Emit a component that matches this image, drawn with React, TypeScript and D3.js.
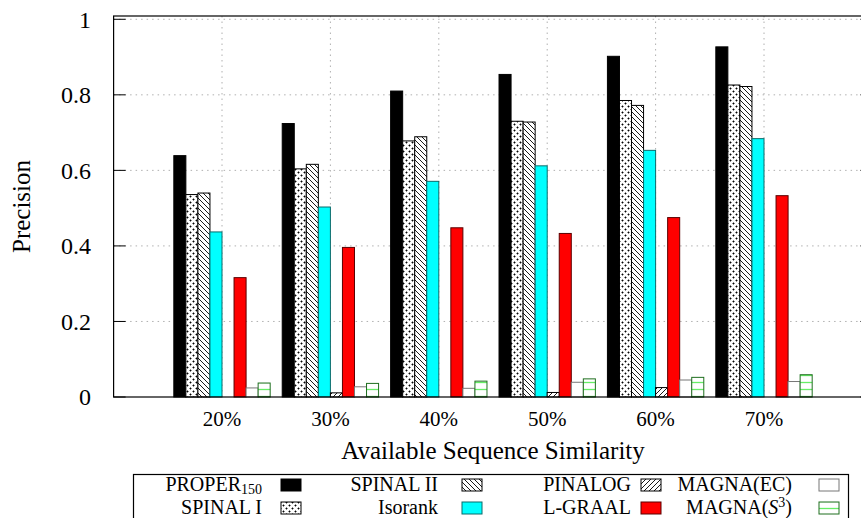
import React, { useEffect, useRef } from "react";
import * as d3 from "d3";

// similarity levels on the x axis
const categories = ["20%", "30%", "40%", "50%", "60%", "70%"];

// precision per method, one value per similarity level
const proper150 = [0.639, 0.724, 0.81, 0.854, 0.902, 0.927];
const spinal1 = [0.536, 0.604, 0.678, 0.73, 0.785, 0.826];
const spinal2 = [0.54, 0.616, 0.689, 0.728, 0.772, 0.822];
const isorank = [0.437, 0.503, 0.571, 0.612, 0.653, 0.684];
const pinalog = [0, 0.011, 0, 0.012, 0.025, 0];
const lgraal = [0.316, 0.396, 0.448, 0.433, 0.475, 0.533];
const magnaEC = [0.024, 0.027, 0.023, 0.039, 0.045, 0.041];
const magnaS3 = [0.037, 0.036, 0.042, 0.048, 0.052, 0.059];

const yTicks = [0, 0.2, 0.4, 0.6, 0.8, 1];

const FONT = "Liberation Serif, DejaVu Serif, serif";

const series = [
  { key: "proper", values: proper150, fill: "#000", stroke: "#000" },
  { key: "spinal1", values: spinal1, fill: "url(#dots)", stroke: "#000" },
  { key: "spinal2", values: spinal2, fill: "url(#back)", stroke: "#000" },
  { key: "isorank", values: isorank, fill: "#00ffff", stroke: "#0a6b6b" },
  { key: "pinalog", values: pinalog, fill: "url(#fwd)", stroke: "#000" },
  { key: "lgraal", values: lgraal, fill: "#ff0000", stroke: "#5a0000" },
  { key: "magnaEC", values: magnaEC, fill: "#fff", stroke: "#777" },
  { key: "magnaS3", values: magnaS3, fill: "url(#hlines)", stroke: "#1f6f1f" },
];

const App = () => {
  const svgRef = useRef<SVGSVGElement | null>(null);

  useEffect(() => {
    const svg = d3.select(svgRef.current);
    svg.selectAll("*").remove();

    const left = 113.6,
      top = 16,
      bottom = 397;
    const groupW = 108.4;
    const right = left + groupW * 7;

    const x = d3.scaleLinear().domain([-1, 6]).range([left, right]);
    const y = d3.scaleLinear().domain([0, 1.0087]).range([bottom, top]);
    const slot = groupW / 9;

    // patterns
    const defs = svg.append("defs");
    const dots = defs
      .append("pattern")
      .attr("id", "dots")
      .attr("patternUnits", "userSpaceOnUse")
      .attr("width", 6)
      .attr("height", 6);
    dots.append("rect").attr("width", 6).attr("height", 6).attr("fill", "#fff");
    dots.append("path").attr("d", "M0.5,1.5h2M1.5,0.5v2M3.5,4.5h2M4.5,3.5v2").attr("stroke", "#000").attr("stroke-width", 0.9);

    const back = defs
      .append("pattern")
      .attr("id", "back")
      .attr("patternUnits", "userSpaceOnUse")
      .attr("width", 5)
      .attr("height", 5);
    back.append("rect").attr("width", 5).attr("height", 5).attr("fill", "#fff");
    back.append("path").attr("d", "M-1,-1L6,6M-1,4L1,6M4,-1L6,1").attr("stroke", "#000").attr("stroke-width", 0.9);

    const fwd = defs
      .append("pattern")
      .attr("id", "fwd")
      .attr("patternUnits", "userSpaceOnUse")
      .attr("width", 5)
      .attr("height", 5);
    fwd.append("rect").attr("width", 5).attr("height", 5).attr("fill", "#fff");
    fwd.append("path").attr("d", "M-1,6L6,-1M-1,1L1,-1M4,6L6,4").attr("stroke", "#000").attr("stroke-width", 0.9);

    const hl = defs
      .append("pattern")
      .attr("id", "hlines")
      .attr("patternUnits", "userSpaceOnUse")
      .attr("width", 8)
      .attr("height", 7);
    hl.append("rect").attr("width", 8).attr("height", 7).attr("fill", "#fff");
    hl.append("line").attr("x1", 0).attr("x2", 8).attr("y1", 4.5).attr("y2", 4.5).attr("stroke", "#66ee66").attr("stroke-width", 1.3);

    // grid
    const grid = svg.append("g").attr("stroke", "#b0b0b0").attr("stroke-dasharray", "1.5,4").attr("stroke-width", 1);
    yTicks.slice(1).forEach((t) => {
      grid.append("line").attr("x1", left).attr("x2", right).attr("y1", y(t)).attr("y2", y(t));
    });
    categories.forEach((c, i) => {
      grid.append("line").attr("x1", x(i)).attr("x2", x(i)).attr("y1", bottom).attr("y2", top);
    });

    // bars
    series.forEach((s, si) => {
      svg
        .append("g")
        .selectAll("rect")
        .data(s.values)
        .enter()
        .append("rect")
        .attr("x", (d, i) => x(i) + (si - 4) * slot)
        .attr("width", slot)
        .attr("y", (d) => y(d))
        .attr("height", (d) => y(0) - y(d))
        .attr("fill", s.fill)
        .attr("stroke", (d) => (d > 0 ? s.stroke : "none"))
        .attr("stroke-width", 1);
    });

    // frame
    svg
      .append("rect")
      .attr("x", left)
      .attr("y", top)
      .attr("width", right - left)
      .attr("height", bottom - top)
      .attr("fill", "none")
      .attr("stroke", "#000")
      .attr("stroke-width", 1.2);

    // y ticks
    const ticks = svg.append("g");
    yTicks.forEach((t) => {
      ticks.append("line").attr("x1", left).attr("x2", left + 12).attr("y1", y(t)).attr("y2", y(t)).attr("stroke", "#000");
      ticks.append("line").attr("x1", right).attr("x2", right - 12).attr("y1", y(t)).attr("y2", y(t)).attr("stroke", "#000");
      ticks
        .append("text")
        .attr("x", 91)
        .attr("y", y(t))
        .attr("dy", "0.35em")
        .attr("text-anchor", "end")
        .style("font-family", FONT)
        .style("font-size", "24px")
        .text(d3.format("")(t));
    });

    // x labels
    svg
      .append("g")
      .selectAll("text")
      .data(categories)
      .enter()
      .append("text")
      .attr("x", (d, i) => x(i))
      .attr("y", 426)
      .attr("text-anchor", "middle")
      .style("font-family", FONT)
      .style("font-size", "21px")
      .text((d) => d);

    svg
      .append("text")
      .attr("x", (left + right) / 2)
      .attr("y", 459)
      .attr("text-anchor", "middle")
      .style("font-family", FONT)
      .style("font-size", "25px")
      .text("Available Sequence Similarity");

    svg
      .append("text")
      .attr("transform", `translate(30,${(top + bottom) / 2}) rotate(-90)`)
      .attr("text-anchor", "middle")
      .style("font-family", FONT)
      .style("font-size", "25px")
      .text("Precision");

    // legend
    const lg = svg.append("g");
    lg.append("rect")
      .attr("x", 133.5)
      .attr("y", 474.5)
      .attr("width", 715)
      .attr("height", 60)
      .attr("fill", "#fff")
      .attr("stroke", "#000")
      .attr("stroke-width", 1.2);

    const textRight = [262, 438, 631, 792];
    const boxX = [281, 462, 641, 819];
    const rowY = [491, 514];
    const names: Record<string, string> = {
      spinal1: "SPINAL I",
      spinal2: "SPINAL II",
      isorank: "Isorank",
      pinalog: "PINALOG",
      lgraal: "L-GRAAL",
      magnaEC: "MAGNA(EC)",
    };

    series.forEach((s, si) => {
      const col = Math.floor(si / 2);
      const row = si % 2;
      const t = lg
        .append("text")
        .attr("x", textRight[col])
        .attr("y", rowY[row])
        .attr("text-anchor", "end")
        .style("font-family", FONT)
        .style("font-size", "20px");
      if (s.key === "proper") {
        t.append("tspan").text("PROPER");
        t.append("tspan").style("font-size", "14px").attr("dy", 3).text("150");
      } else if (s.key === "magnaS3") {
        t.append("tspan").text("MAGNA(");
        t.append("tspan").style("font-style", "italic").text("S");
        t.append("tspan").style("font-size", "14px").attr("dy", -7).text("3");
        t.append("tspan").attr("dy", 7).text(")");
      } else {
        t.text(names[s.key]);
      }
      lg.append("rect")
        .attr("x", boxX[col])
        .attr("y", rowY[row] - 12)
        .attr("width", 20)
        .attr("height", 12)
        .attr("fill", s.fill)
        .attr("stroke", s.stroke)
        .attr("stroke-width", 1);
    });
  }, []);

  return (
    <div>
      <svg
        ref={svgRef}
        width={861}
        height={518}
        style={{ position: "absolute", left: 0, top: 0, background: "#fff" }}
      ></svg>
    </div>
  );
};

export default App;
